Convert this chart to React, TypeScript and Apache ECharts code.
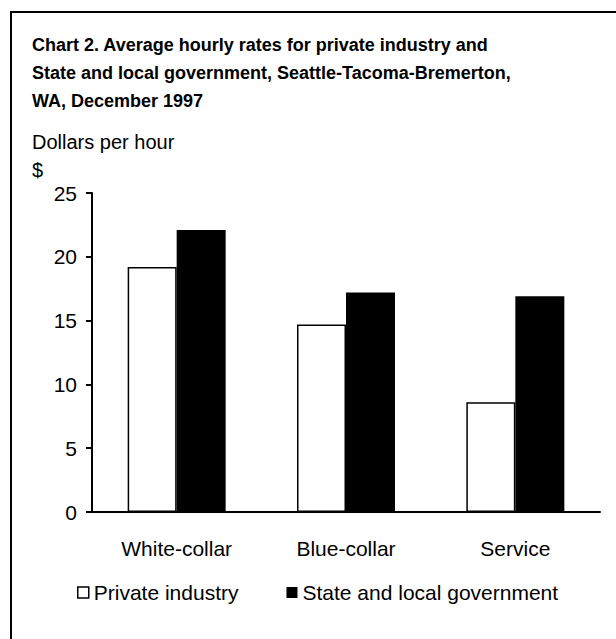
import React, { useEffect, useRef } from "react";
import * as echarts from "echarts";

const categories = ["White-collar", "Blue-collar", "Service"];
const privateIndustry = [19.2, 14.7, 8.6];
const stateLocalGov = [22.1, 17.2, 16.9];
const titleLines = [
  "Chart 2. Average hourly rates for private industry and",
  "State and local government, Seattle-Tacoma-Bremerton,",
  "WA, December 1997",
];

const FONT = "'Liberation Sans', Arial, Helvetica, sans-serif";
const NOTE_SIZE = 20;
const AXIS_SIZE = 21;

export default function App() {
  const ref = useRef<HTMLDivElement>(null);

  useEffect(() => {
    document.body.style.margin = "0";
    if (!ref.current) return;
    const chart = echarts.init(ref.current, null, { renderer: "svg" });
    chart.setOption({
      animation: false,
      backgroundColor: "#ffffff",
      textStyle: { fontFamily: FONT, color: "#000" },
      title: {
        text: titleLines.join("\n"),
        left: 27,
        top: 26,
        textStyle: {
          fontFamily: FONT,
          fontSize: 18,
          fontWeight: "bold",
          color: "#000",
          lineHeight: 28,
        },
      },
      graphic: [
        {
          type: "rect",
          shape: { x: 11, y: 12, width: 640, height: 660 },
          style: { fill: "none", stroke: "#000", lineWidth: 2 },
          silent: true,
        },
        {
          type: "text",
          left: 32,
          top: 132,
          style: { text: "Dollars per hour", fontFamily: FONT, fontSize: NOTE_SIZE, fill: "#000" },
        },
        {
          type: "text",
          left: 32,
          top: 160,
          style: { text: "$", fontFamily: FONT, fontSize: NOTE_SIZE, fill: "#000" },
        },
      ],
      legend: {
        left: 72,
        top: 577,
        itemWidth: 11,
        itemHeight: 11,
        itemGap: 48,
        textStyle: { fontFamily: FONT, fontSize: AXIS_SIZE, color: "#000" },
        data: [
          {
            name: "Private industry",
            icon: "rect",
            itemStyle: { color: "#fff", borderColor: "#000", borderWidth: 1.5 },
          },
          { name: "State and local government", icon: "rect", itemStyle: { color: "#000" } },
        ],
      },
      grid: { left: 92, right: 16, top: 193, bottom: 127, containLabel: false },
      xAxis: {
        type: "category",
        data: categories,
        axisLine: { lineStyle: { color: "#000", width: 2 } },
        axisTick: { show: false },
        axisLabel: { color: "#000", fontSize: AXIS_SIZE, fontFamily: FONT, margin: 26 },
      },
      yAxis: {
        type: "value",
        min: 0,
        max: 25,
        interval: 5,
        splitLine: { show: false },
        axisLine: { show: true, lineStyle: { color: "#000", width: 2 } },
        axisTick: { show: true, length: 6, lineStyle: { color: "#000", width: 2 } },
        axisLabel: { color: "#000", fontSize: AXIS_SIZE, fontFamily: FONT, margin: 15 },
      },
      series: [
        {
          name: "Private industry",
          type: "bar",
          data: privateIndustry,
          barWidth: 49,
          barGap: "0%",
          itemStyle: { color: "#fff", borderColor: "#000", borderWidth: 1.5 },
        },
        {
          name: "State and local government",
          type: "bar",
          data: stateLocalGov,
          barWidth: 49,
          barGap: "0%",
          itemStyle: { color: "#000" },
        },
      ],
    });
    return () => chart.dispose();
  }, []);

  return <div ref={ref} style={{ width: 616, height: 639 }} />;
}
